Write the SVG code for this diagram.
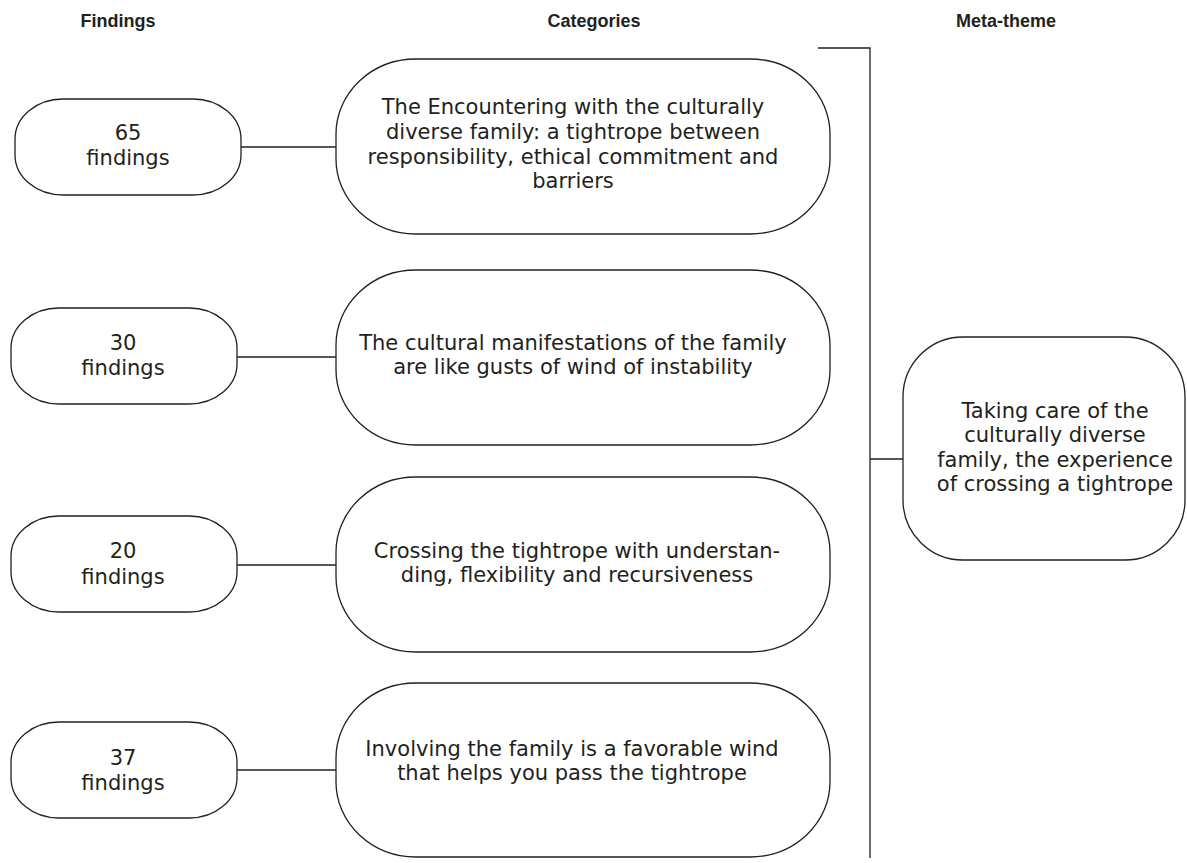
<svg xmlns="http://www.w3.org/2000/svg" width="1187" height="863" viewBox="0 0 1187 863">
<style>
.hdr{font-family:"Liberation Sans",Arial,sans-serif;font-weight:bold;font-size:18px;fill:#231f20;text-anchor:middle}
.t{font-family:"DejaVu Sans",Verdana,sans-serif;font-size:21px;fill:#231f20;text-anchor:middle}
.box{fill:#fff;stroke:#231f20;stroke-width:1.3}
.ln{fill:none;stroke:#231f20;stroke-width:1.3}
</style>
<rect width="1187" height="863" fill="#fff"/>
<g id="headers">
<text class="hdr" x="118" y="27">Findings</text>
<text class="hdr" x="594" y="27">Categories</text>
<text class="hdr" x="1006" y="27">Meta-theme</text>
</g>
<g id="connectors">
<line class="ln" x1="241" y1="147" x2="336" y2="147"/>
<line class="ln" x1="237" y1="357" x2="336" y2="357"/>
<line class="ln" x1="237" y1="565" x2="336" y2="565"/>
<line class="ln" x1="237" y1="770" x2="336" y2="770"/>
<polyline class="ln" points="818,48 870,48 870,858"/>
<line class="ln" x1="870" y1="459" x2="903" y2="459"/>
</g>
<g id="f1"><rect class="box" x="15" y="99" width="226" height="96" rx="48" ry="40"/>
<text class="t" x="128" y="140">65</text><text class="t" x="128" y="165">findings</text></g>
<g id="f2"><rect class="box" x="11" y="308" width="226" height="96" rx="48" ry="40"/>
<text class="t" x="123" y="350">30</text><text class="t" x="123" y="375">findings</text></g>
<g id="f3"><rect class="box" x="11" y="516" width="226" height="96" rx="48" ry="40"/>
<text class="t" x="123" y="558">20</text><text class="t" x="123" y="584">findings</text></g>
<g id="f4"><rect class="box" x="11" y="722" width="226" height="96" rx="48" ry="40"/>
<text class="t" x="123" y="765">37</text><text class="t" x="123" y="790">findings</text></g>
<g id="c1"><rect class="box" x="336" y="59" width="494" height="175" rx="80" ry="75"/>
<text class="t" x="573" y="114">The Encountering with the culturally</text>
<text class="t" x="573" y="139">diverse family: a tightrope between</text>
<text class="t" x="573" y="164">responsibility, ethical commitment and</text>
<text class="t" x="573" y="188">barriers</text></g>
<g id="c2"><rect class="box" x="336" y="270" width="494" height="175" rx="80" ry="75"/>
<text class="t" x="573" y="350">The cultural manifestations of the family</text>
<text class="t" x="573" y="374">are like gusts of wind of instability</text></g>
<g id="c3"><rect class="box" x="336" y="477" width="494" height="175" rx="80" ry="75"/>
<text class="t" x="577" y="558">Crossing the tightrope with understan-</text>
<text class="t" x="577" y="582">ding, flexibility and recursiveness</text></g>
<g id="c4"><rect class="box" x="336" y="683" width="494" height="174" rx="80" ry="75"/>
<text class="t" x="572" y="756">Involving the family is a favorable wind</text>
<text class="t" x="572" y="780">that helps you pass the tightrope</text></g>
<g id="meta"><rect class="box" x="903" y="337" width="282" height="223" rx="60" ry="60"/>
<text class="t" x="1055" y="418">Taking care of the</text>
<text class="t" x="1055" y="442">culturally diverse</text>
<text class="t" x="1055" y="467">family, the experience</text>
<text class="t" x="1055" y="491">of crossing a tightrope</text></g>
</svg>
